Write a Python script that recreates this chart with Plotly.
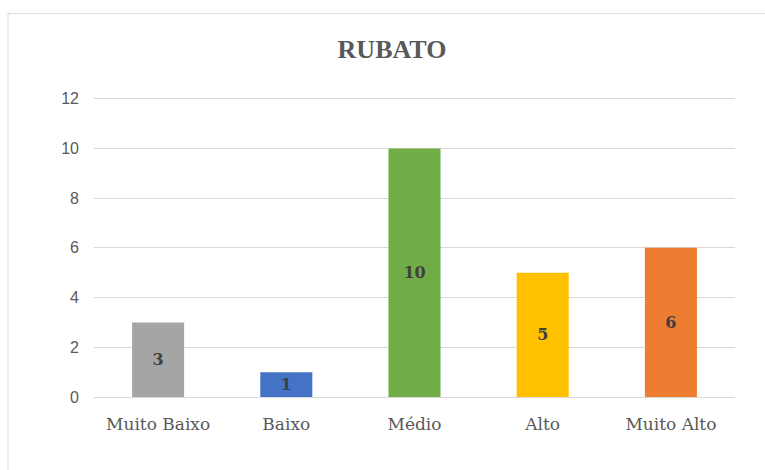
import plotly.graph_objects as go

categories = ["Muito Baixo", "Baixo", "Médio", "Alto", "Muito Alto"]
values = [3, 1, 10, 5, 6]
colors = ["#A5A5A5", "#4472C4", "#70AD47", "#FFC000", "#ED7D31"]
y_ticks = [0, 2, 4, 6, 8, 10, 12]

fig = go.Figure(go.Bar(
    x=categories, y=values,
    marker=dict(color=colors, line=dict(width=0)),
    text=[str(v) for v in values],
    textposition="inside", insidetextanchor="middle",
    textangle=0,
    textfont=dict(family="DejaVu Serif", size=16, color="#404040", weight="bold"),
    hoverinfo="skip",
))

W, H = 765, 470
L, R, B = 94, 30, 73
YMAX = 12.15
ph = 298 * YMAX / 12
T = H - B - ph
pw = W - L - R

def px_x(x):
    return (x - L) / pw

def px_y(y):
    return (H - B - y) / ph

fig.update_layout(
    width=W, height=H,
    margin=dict(l=L, r=R, t=T, b=B),
    paper_bgcolor="white", plot_bgcolor="white",
    bargap=0.594,
    showlegend=False,
    title=dict(text="<b>RUBATO</b>", x=(392) / W, xanchor="center", y=1 - 49 / H, yanchor="middle",
               font=dict(family="Liberation Serif", size=26, color="#595959")),
    xaxis=dict(showgrid=False, showline=False, zeroline=False, ticks="",
               tickfont=dict(family="DejaVu Serif", size=17, color="#595959"),
               ticklabelstandoff=15),
    yaxis=dict(range=[0, YMAX], tickvals=y_ticks, showgrid=True, gridcolor="#D9D9D9",
               gridwidth=1, zeroline=True, zerolinecolor="#D9D9D9", zerolinewidth=1,
               showline=False, ticks="",
               tickfont=dict(family="Liberation Sans", size=16, color="#595959"),
               ticklabelstandoff=14),
    shapes=[dict(type="rect", xref="paper", yref="paper",
                 x0=px_x(8), x1=px_x(790), y0=px_y(490), y1=px_y(14),
                 line=dict(color="#D9D9D9", width=1), fillcolor="rgba(0,0,0,0)", layer="below")],
)

fig.write_html("out.html")
